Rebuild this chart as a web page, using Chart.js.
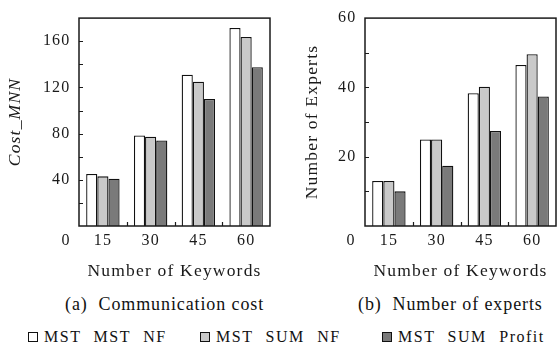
<!DOCTYPE html>
<html>
<head>
<meta charset="utf-8">
<script src="https://cdn.jsdelivr.net/npm/chart.js@4/dist/chart.umd.min.js"></script>
<style>
  html, body { margin: 0; padding: 0; background: #fff; }
  #wrap { position: relative; width: 558px; height: 352px; overflow: hidden;
          font-family: "Liberation Serif", "Times New Roman", serif; color: #111; }
  #wrap canvas { position: absolute; top: 0; }
  .cap { position: absolute; font-size: 18px; letter-spacing: 0.9px; white-space: pre; line-height: 20px; }
  .leg { position: absolute; top: 328px; height: 18px; display: flex; align-items: center;
         font-size: 16px; letter-spacing: 1.5px; word-spacing: 7px; white-space: nowrap; }
  .box { width: 10px; height: 10px; border: 1px solid #111; box-sizing: border-box; margin-right: 6px; }
</style>
</head>
<body>
<div id="wrap">
  <canvas id="costChart" width="279" height="285" style="left:0"></canvas>
  <canvas id="expertChart" width="279" height="285" style="left:279px"></canvas>
  <div class="cap" style="left:65px; top:294px">(a)  Communication cost</div>
  <div class="cap" style="left:358px; top:294px">(b)  Number of experts</div>
</div>
<script>
// Number of query keywords (categories)
const keywords = ['15', '30', '45', '60'];
const seriesNames = ['MST MST NF', 'MST SUM NF', 'MST SUM Profit'];
const seriesColors = ['#ffffff', '#c9c9c9', '#7a7a7a'];

// (a) communication cost
const costMstMstNf     = [45, 78.4, 131, 171.4];
const costMstSumNf     = [43, 77.3, 125, 163.7];
const costMstSumProfit = [41, 74, 110, 137.5];
const costLabelTicks   = [40, 80, 120, 160];

// (b) number of experts
const expMstMstNf      = [13, 25, 38.3, 46.5];
const expMstSumNf      = [13, 25, 40.2, 49.6];
const expMstSumProfit  = [10, 17.4, 27.4, 37.4];
const expertLabelTicks = [20, 40, 60];

const SERIF = '"Liberation Serif", "Times New Roman", serif';
const INK = '#1a1a1a';
const SPACING = '1.2px';

// Boxed frame, inward tick marks and the shared origin label
const framePlugin = {
  id: 'frame',
  beforeDraw(chart) { chart.ctx.letterSpacing = SPACING; },
  afterDatasetsDraw(chart, args, opts) {
    const { ctx, chartArea: a, scales: { x, y } } = chart;
    ctx.save();
    ctx.letterSpacing = '0px';
    ctx.strokeStyle = INK;
    ctx.lineWidth = 1.5;
    ctx.strokeRect(a.left, a.top, a.right - a.left, a.bottom - a.top);
    ctx.lineWidth = 1.2;
    ctx.beginPath();
    y.ticks.forEach(t => {
      if (t.value > y.min && t.value < y.max) {
        const py = Math.round(y.getPixelForValue(t.value)) + 0.5;
        ctx.moveTo(a.left, py);
        ctx.lineTo(a.left + 4, py);
      }
    });
    for (let i = 0; i < x.ticks.length - 1; i++) {
      const px = Math.round((x.getPixelForValue(i) + x.getPixelForValue(i + 1)) / 2) + 0.5;
      ctx.moveTo(px, a.bottom);
      ctx.lineTo(px, a.bottom - 4);
    }
    ctx.stroke();
    ctx.letterSpacing = SPACING;
    ctx.font = '16px ' + SERIF;
    ctx.fillStyle = INK;
    ctx.textAlign = 'center';
    ctx.textBaseline = 'middle';
    ctx.fillText(String(y.min), a.left - opts.zeroOffset, a.bottom + 5 + 9.6);
    ctx.restore();
  }
};

function makeChart(id, series, yMax, yStep, labelTicks, yTitle, yTitleItalic, yTitlePad, axisWidth, rightPad, zeroOffset) {
  return new Chart(document.getElementById(id), {
    type: 'bar',
    data: {
      labels: keywords,
      datasets: series.map((d, i) => ({
        label: seriesNames[i],
        data: d,
        backgroundColor: seriesColors[i],
        borderColor: '#111',
        borderWidth: 1.3,
        categoryPercentage: 0.7,
        barPercentage: 1.0
      }))
    },
    options: {
      responsive: false,
      animation: false,
      events: [],
      layout: { padding: { top: 15, right: rightPad, left: 0, bottom: 0 } },
      plugins: {
        legend: { display: false },
        tooltip: { enabled: false },
        frame: { zeroOffset }
      },
      scales: {
        x: {
          grid: { display: false, drawTicks: false },
          border: { display: false },
          ticks: { color: INK, font: { family: SERIF, size: 16 }, padding: 5, maxRotation: 0 },
          title: { display: true, text: 'Number of Keywords', color: INK,
                   font: { family: SERIF, size: 17.5 }, padding: { top: 0, bottom: 3.5 } },
          afterFit(s) { s.height = 59; }
        },
        y: {
          min: 0, max: yMax,
          grid: { display: false, drawTicks: false },
          border: { display: false },
          ticks: {
            stepSize: yStep, color: INK, font: { family: SERIF, size: 16 }, padding: 8.5,
            callback: v => labelTicks.includes(v) ? String(v) : ''
          },
          title: { display: true, text: yTitle, color: INK,
                   font: { family: SERIF, size: 17.5, style: yTitleItalic ? 'italic' : 'normal' },
                   padding: { top: yTitlePad, bottom: 0 } },
          afterFit(s) { s.width = axisWidth; }
        }
      }
    },
    plugins: [framePlugin]
  });
}

makeChart('costChart', [costMstMstNf, costMstSumNf, costMstSumProfit],
          180, 20, costLabelTicks, 'Cost_MNN', true, 4.5, 79, 9, 13);
makeChart('expertChart', [expMstMstNf, expMstSumNf, expMstSumProfit],
          60, 10, expertLabelTicks, 'Number of Experts', false, 22.5, 86, 2, 14);

// Shared legend under both panels
const legendLeft = [28, 200, 382];
const wrap = document.getElementById('wrap');
seriesNames.forEach((name, i) => {
  const item = document.createElement('div');
  item.className = 'leg';
  item.style.left = legendLeft[i] + 'px';
  const sw = document.createElement('span');
  sw.className = 'box';
  sw.style.background = seriesColors[i];
  const tx = document.createElement('span');
  tx.textContent = name;
  item.appendChild(sw);
  item.appendChild(tx);
  wrap.appendChild(item);
});
</script>
</body>
</html>
